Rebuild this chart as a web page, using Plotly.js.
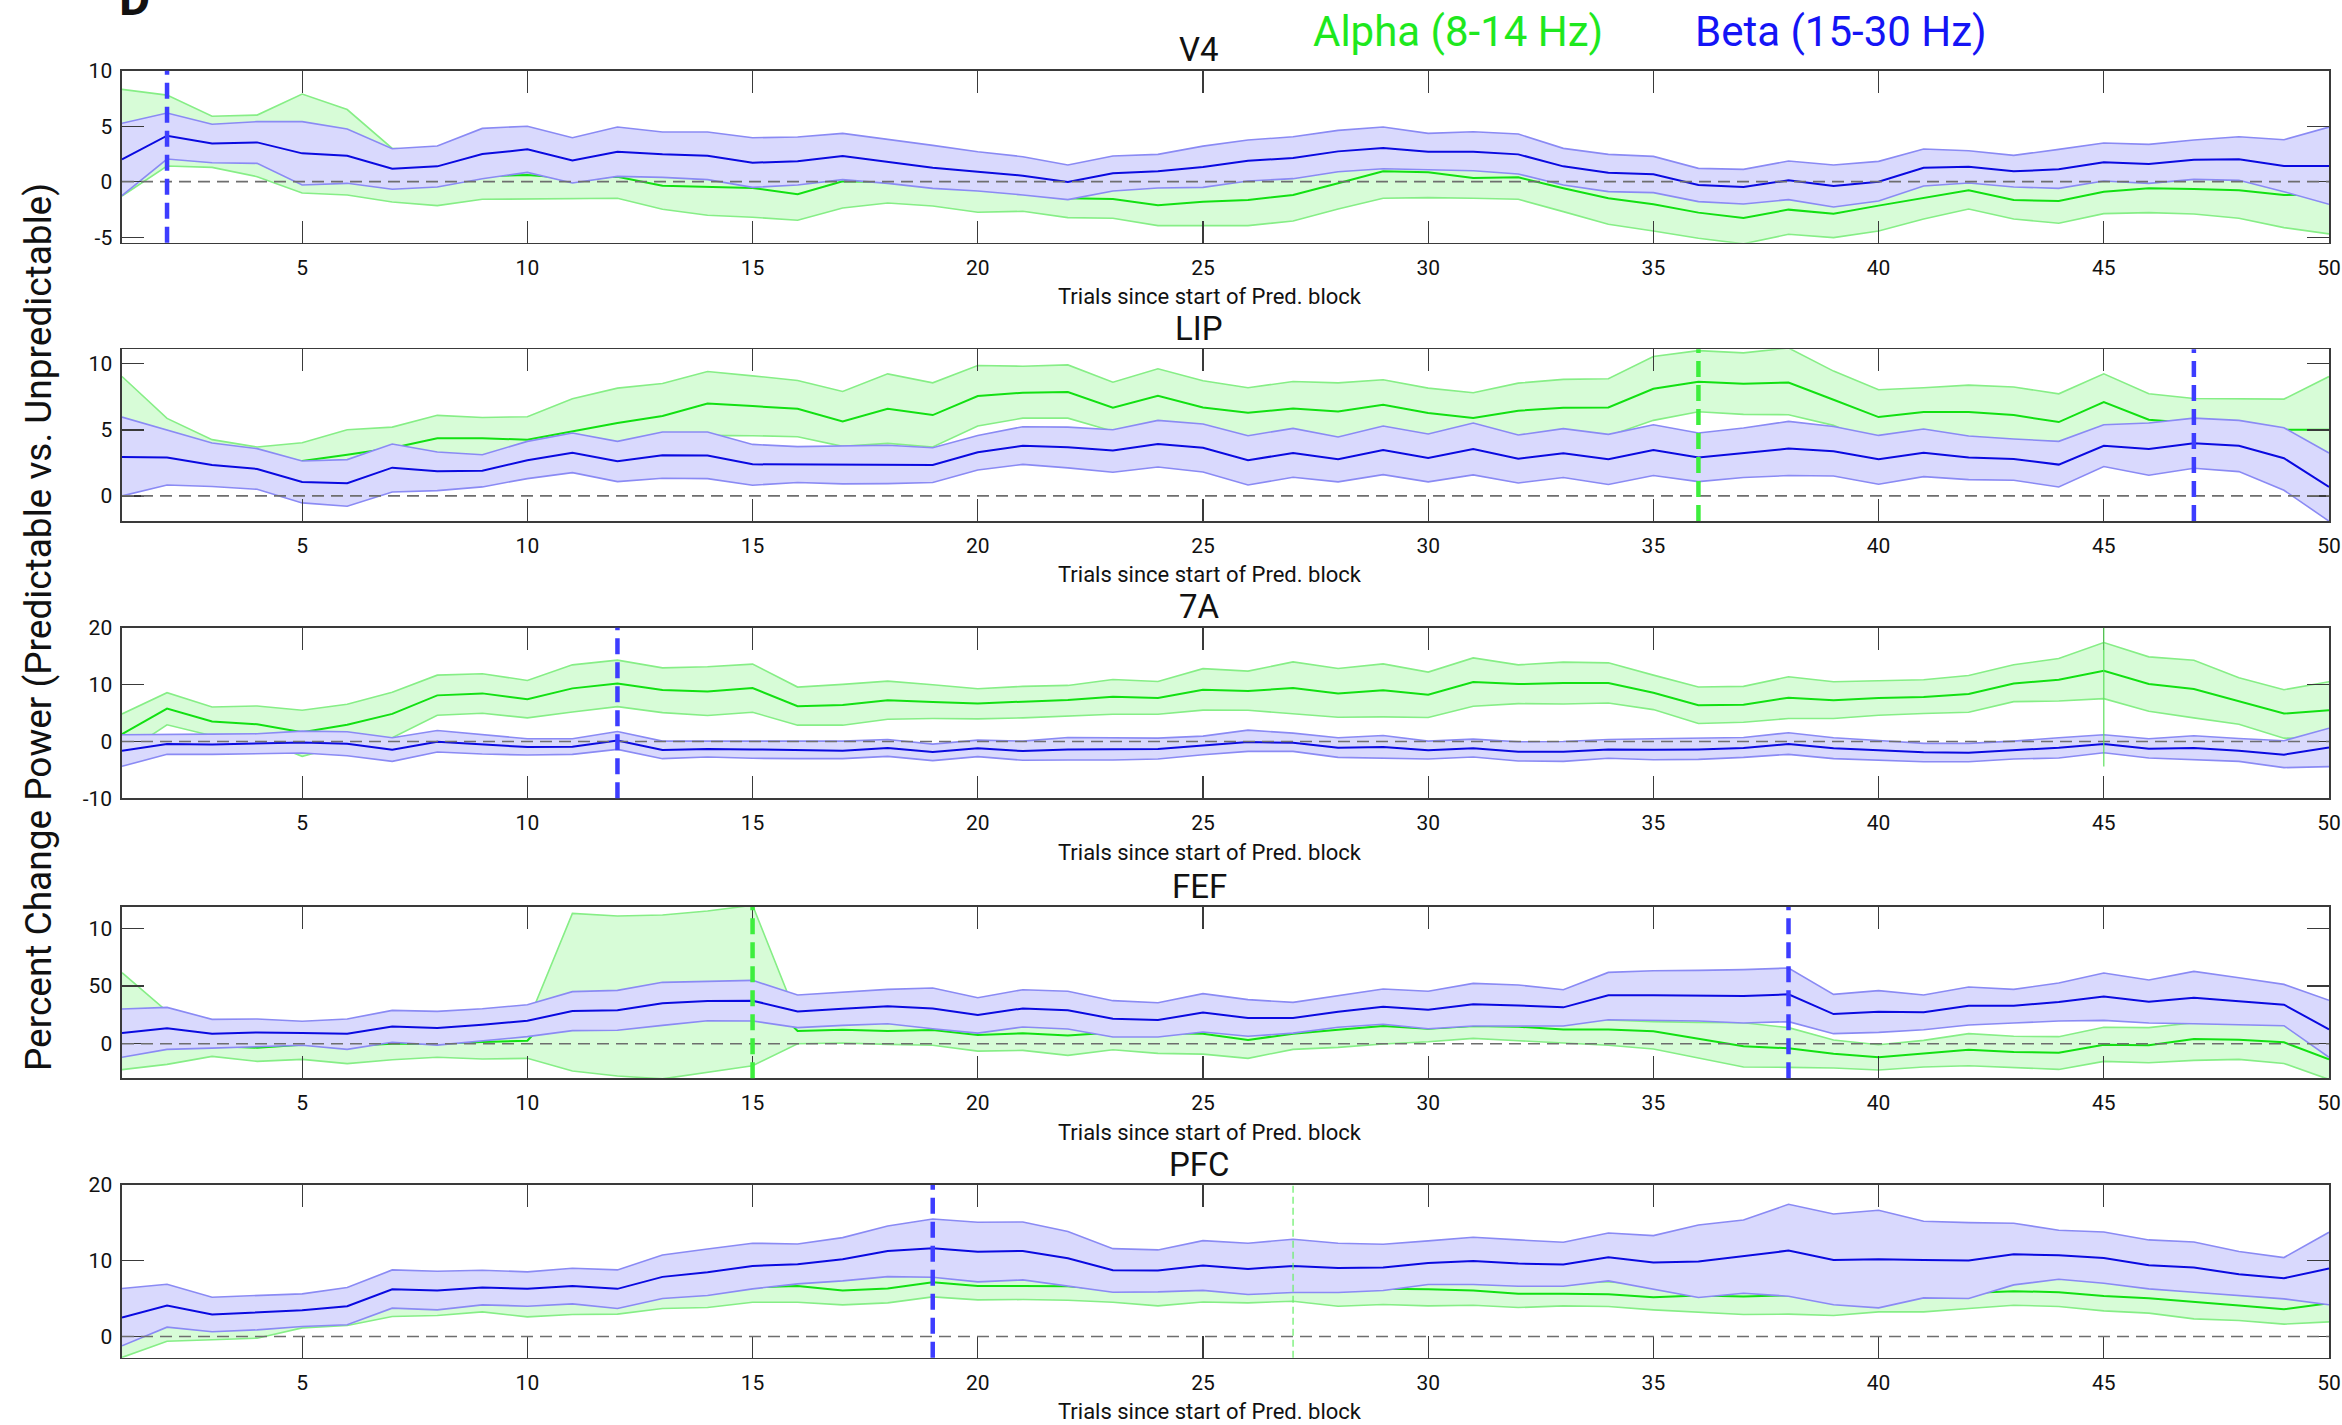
<!DOCTYPE html>
<html>
<head>
<meta charset="utf-8">
<script src="https://cdn.plot.ly/plotly-3.0.1.min.js"></script>
<style>
html,body{margin:0;padding:0;background:#fff;}
#chart{width:2342px;height:1425px;}
</style>
</head>
<body>
<div id="chart"></div>
<script>
// ---------------- DATA ----------------
const trials = [1,2,3,4,5,6,7,8,9,10,11,12,13,14,15,16,17,18,19,20,21,22,23,24,25,26,27,28,29,30,31,32,33,34,35,36,37,38,39,40,41,42,43,44,45,46,47,48,49,50];
const xTickVals = [5,10,15,20,25,30,35,40,45,50];
const panelNames = ['V4','LIP','7A','FEF','PFC'];
const xTitleText = 'Trials since start of Pred. block';
const yTitleText = 'Percent Change Power (Predictable vs. Unpredictable)';
const alphaLabel = 'Alpha (8-14 Hz)';
const betaLabel = 'Beta (15-30 Hz)';

// V4
const v4AlphaMean  = [3.5,4.6,3.6,3.2,3.4,2.6,0.6,0.3,0.5,0.6,0.3,0.45,-0.36,-0.48,-0.57,-1.14,0.03,0.0,-0.4,-0.7,-1.0,-1.5,-1.56,-2.13,-1.8,-1.65,-1.2,-0.15,0.93,0.84,0.33,0.39,-0.6,-1.5,-2.04,-2.79,-3.27,-2.52,-2.88,-2.16,-1.5,-0.78,-1.65,-1.74,-0.9,-0.6,-0.66,-0.78,-1.2,-1.14];
const v4AlphaUpper = [8.32,7.8,5.9,6.0,7.9,6.5,3.0,2.76,2.59,2.76,2.19,2.4,1.77,2.07,2.07,1.2,2.43,1.9,1.4,1.4,0.7,0.2,0.2,-0.3,0.36,0.66,1.14,2.16,3.36,3.12,2.16,2.37,1.5,0.84,0.36,-0.48,-0.9,-0.3,-0.72,0.12,0.36,0.9,0.06,0.27,1.08,1.59,1.59,1.74,1.74,2.43];
const v4AlphaLower = [-1.29,1.41,1.29,0.45,-1.02,-1.2,-1.83,-2.16,-1.59,-1.56,-1.59,-1.5,-2.49,-3.03,-3.21,-3.48,-2.37,-1.92,-2.19,-2.76,-2.67,-3.24,-3.3,-3.96,-3.96,-3.96,-3.54,-2.46,-1.5,-1.44,-1.5,-1.59,-2.7,-3.84,-4.44,-5.1,-5.6,-4.74,-5.04,-4.44,-3.36,-2.46,-3.36,-3.75,-2.88,-2.79,-2.91,-3.3,-4.14,-4.71];
const v4BetaMean   = [2.0,4.14,3.45,3.54,2.55,2.34,1.17,1.38,2.49,2.91,1.92,2.7,2.46,2.34,1.71,1.83,2.31,1.8,1.26,0.9,0.54,-0.03,0.75,0.93,1.32,1.89,2.13,2.73,3.03,2.7,2.7,2.46,1.38,0.81,0.66,-0.3,-0.48,0.12,-0.39,0.0,1.26,1.35,0.93,1.11,1.74,1.59,1.98,2.01,1.41,1.41];
const v4BetaUpper  = [5.26,6.19,5.17,5.41,5.41,4.74,2.97,3.21,4.8,5.0,3.96,4.92,4.47,4.47,3.96,4.02,4.35,3.84,3.27,2.7,2.25,1.5,2.31,2.46,3.2,3.75,4.05,4.62,4.92,4.35,4.5,4.29,3.0,2.46,2.28,1.2,1.11,1.86,1.5,1.83,2.94,2.79,2.37,2.91,3.48,3.36,3.75,4.05,3.78,4.92];
const v4BetaLower  = [-1.26,2.04,1.71,1.65,-0.3,-0.15,-0.69,-0.48,0.27,0.84,-0.12,0.48,0.39,0.18,-0.51,-0.3,0.18,-0.15,-0.6,-0.84,-1.2,-1.62,-0.84,-0.57,-0.51,0.06,0.27,0.9,1.17,1.05,0.99,0.69,-0.3,-0.9,-0.99,-1.8,-2.01,-1.62,-2.28,-1.74,-0.39,-0.12,-0.48,-0.6,0.06,-0.15,0.21,0.12,-0.9,-2.04];
const v4YRange = [-5.5, 10];
const v4YTicks = [-5, 0, 5, 10];
const v4YTickText = ['-5','0','5','10'];

// LIP
const lipAlphaMean  = [4.6,3.8,3.0,2.7,2.64,3.12,3.63,4.36,4.36,4.26,4.89,5.52,6.05,7.0,6.8,6.6,5.64,6.6,6.12,7.56,7.81,7.86,6.68,7.58,6.7,6.3,6.62,6.4,6.9,6.27,5.89,6.45,6.68,6.7,8.11,8.64,8.49,8.59,7.28,5.97,6.35,6.35,6.12,5.59,7.1,5.77,5.5,5.3,5.0,5.01];
const lipAlphaUpper = [9.04,5.87,4.26,3.7,4.03,5.01,5.21,6.1,5.94,5.99,7.36,8.16,8.51,9.42,9.09,8.74,7.91,9.24,8.56,9.87,9.82,9.92,8.61,9.62,8.72,8.19,8.66,8.56,8.79,8.16,7.81,8.54,8.82,8.87,10.55,11.0,10.83,11.2,9.45,8.04,8.19,8.39,8.24,7.73,9.24,7.73,7.38,7.38,7.33,9.04];
const lipAlphaLower = [0.2,1.7,1.7,1.7,1.25,1.23,2.05,2.62,2.78,2.53,2.42,2.88,3.59,4.58,4.56,4.48,3.75,3.98,3.7,5.29,5.89,5.89,4.9,5.54,4.68,4.41,4.58,4.24,5.0,4.38,3.97,4.36,4.54,4.53,5.72,6.37,6.17,6.15,5.34,3.9,4.5,4.3,4.0,3.45,4.96,3.8,3.6,3.2,2.7,1.0];
const lipBetaMean   = [2.95,2.9,2.34,2.04,1.06,0.96,2.14,1.86,1.91,2.7,3.27,2.62,3.07,3.05,2.39,2.39,2.37,2.39,2.34,3.3,3.8,3.68,3.43,3.93,3.65,2.7,3.25,2.77,3.48,2.87,3.55,2.82,3.22,2.77,3.48,2.9,3.22,3.58,3.38,2.77,3.27,2.9,2.8,2.37,3.8,3.55,3.98,3.8,2.85,0.68];
const lipBetaUpper  = [5.97,5.01,4.0,3.58,2.64,2.75,3.93,3.32,3.12,4.13,4.76,4.13,4.84,4.84,3.9,3.73,3.78,3.83,3.65,4.58,5.24,5.21,5.01,5.72,5.44,4.56,5.11,4.46,5.29,4.69,5.52,4.61,5.09,4.66,5.39,4.76,5.14,5.64,5.26,4.58,5.06,4.53,4.31,4.13,5.39,5.52,5.89,5.72,5.16,3.25];
const lipBetaLower  = [0.0,0.83,0.71,0.5,-0.53,-0.78,0.3,0.4,0.68,1.31,1.76,1.08,1.34,1.31,0.81,1.01,0.91,0.93,1.01,1.96,2.39,2.12,1.79,2.19,1.81,0.83,1.41,1.06,1.61,1.06,1.59,0.98,1.39,0.86,1.54,1.08,1.39,1.54,1.51,0.88,1.46,1.23,1.18,0.68,2.22,1.56,2.09,1.84,0.43,-1.91];
const lipYRange = [-1.9, 11.1];
const lipYTicks = [0, 5, 10];
const lipYTickText = ['0','5','10'];

// 7A
const a7AlphaMean  = [1.28,5.77,3.5,3.03,1.63,2.92,4.84,8.1,8.45,7.41,9.33,10.2,9.04,8.8,9.39,6.18,6.41,7.23,6.94,6.65,7.0,7.29,7.87,7.64,9.1,8.86,9.39,8.45,8.98,8.22,10.44,10.09,10.26,10.26,8.57,6.36,6.47,7.7,7.23,7.64,7.81,8.34,10.2,10.85,12.42,10.09,9.21,7.11,4.9,5.48];
const a7AlphaUpper = [4.84,8.57,6.06,6.24,5.48,6.53,8.63,11.66,11.9,10.73,13.47,14.29,12.94,13.12,13.59,9.56,10.03,10.61,9.97,9.27,9.68,9.85,10.9,10.55,12.8,12.36,13.99,12.83,13.64,12.19,14.69,13.47,13.94,13.82,11.66,9.56,9.68,11.37,10.5,10.73,10.85,11.6,13.47,14.58,17.38,14.87,14.29,11.2,9.1,10.5];
const a7AlphaLower = [-2.3,2.92,1.0,0.5,-2.62,-0.5,0.64,4.6,4.96,4.14,5.19,6.12,5.07,4.55,5.13,2.86,2.86,3.91,4.02,3.97,4.14,4.43,4.78,4.78,5.5,5.48,4.9,4.26,4.31,4.2,6.18,6.65,6.59,6.76,5.6,3.15,3.38,4.02,4.02,4.61,4.9,5.13,7.0,7.11,7.52,5.31,4.14,3.03,0.58,0.5];
const a7BetaMean   = [-1.63,-0.47,-0.52,-0.41,-0.17,-0.41,-1.46,-0.06,-0.58,-0.99,-0.93,0.17,-1.52,-1.34,-1.4,-1.57,-1.63,-1.17,-1.87,-1.22,-1.69,-1.4,-1.4,-1.34,-0.7,-0.12,-0.23,-1.11,-0.99,-1.57,-1.22,-1.81,-1.81,-1.4,-1.46,-1.4,-1.17,-0.47,-1.22,-1.57,-1.92,-1.98,-1.52,-1.11,-0.47,-1.28,-1.17,-1.63,-2.33,-1.05];
const a7BetaUpper  = [1.17,1.28,1.28,1.34,1.81,1.69,0.64,1.92,1.17,0.47,0.47,1.75,0.05,0.05,0.05,0.05,0.05,0.35,-0.47,0.23,0.06,0.7,0.7,0.58,0.93,1.98,1.46,0.64,1.05,0.06,0.41,-0.06,0.0,0.35,0.47,0.58,0.7,1.52,0.64,0.17,-0.35,-0.35,0.06,0.64,1.17,0.47,0.99,0.52,0.12,2.33];
const a7BetaLower  = [-4.37,-2.27,-2.27,-2.16,-2.04,-2.51,-3.5,-1.87,-2.22,-2.39,-2.27,-1.4,-3.03,-2.74,-2.97,-3.03,-3.03,-2.62,-3.38,-2.68,-3.32,-3.27,-3.27,-3.09,-2.33,-1.75,-1.75,-2.8,-2.92,-3.09,-2.74,-3.44,-3.5,-2.97,-3.21,-3.15,-2.8,-2.27,-3.03,-3.27,-3.56,-3.56,-3.09,-2.92,-1.98,-2.92,-3.15,-3.5,-4.61,-4.43];
const a7YRange = [-10, 20];
const a7YTicks = [-10, 0, 10, 20];
const a7YTickText = ['-10','0','10','20'];

// FEF
const fefAlphaMean  = [20,5,-2,-3.5,-1.0,-2,0,0,1.5,2.6,44.6,41.4,40.8,45,50,11.0,12.1,11.0,11.8,7.5,9.0,7.2,9.8,9.5,8.7,3.2,8.7,12.1,15.3,13.0,15.3,14.7,12.4,12.4,10.7,4.3,-2.3,-4.0,-8.7,-11.8,-8.4,-5.2,-7.2,-7.8,-0.9,-1.4,4.0,3.5,1.2,-13.6];
const fefAlphaUpper = [61.6,28,7,8.3,11.6,13.3,13.9,11.8,16.3,17.9,113,110.7,111.6,115,120,22,23.6,22.6,25,21.4,23.8,24.5,24.8,27.4,26.4,19.1,22.3,27.4,30.9,24.3,26,26.8,24.5,20.5,19.1,18.5,18.2,13.9,3.2,-0.9,2.9,8.7,6.4,6.1,14.2,13.9,18.2,17.6,16.2,-10.7];
const fefAlphaLower = [-22.5,-17.9,-11.0,-15.3,-13.6,-17.3,-13.9,-11.8,-13.3,-12.7,-23.7,-28.0,-30.5,-24.9,-19.1,0.0,0.6,-0.6,-1.4,-6.4,-5.8,-10.1,-5.2,-8.4,-9.0,-12.7,-4.9,-3.2,-0.3,1.7,4.6,2.6,0.3,-1.4,-4.6,-12.7,-20.2,-20.5,-21.1,-22.8,-20.2,-19.1,-20.8,-22.3,-15.3,-16.5,-14.5,-13.6,-17.1,-31];
const fefBetaMean   = [9.2,13.3,8.7,9.8,9.2,8.7,15.0,13.6,16.5,19.9,28.3,28.9,35.0,37.0,37.3,28.0,30.3,32.4,30.6,24.9,30.6,28.9,21.7,20.5,27.0,22.3,22.3,27.7,32.1,29.5,34.1,33.2,31.5,41.9,41.9,41.6,41.3,42.8,25.7,27.7,27.2,32.9,32.9,36.1,41.0,36.4,39.9,36.7,33.8,12.4];
const fefBetaUpper  = [30.1,31.5,21.1,21.4,19.4,21.4,28.9,28.0,30.3,33.8,45.1,46.2,53.2,54.0,54.9,42.2,44.5,47.1,48.3,39.9,46.8,45.4,37.3,35.5,43.4,38.2,35.8,41.6,47.4,45.4,52.3,50.9,46.8,61.8,63.3,63.6,64.2,65.6,42.8,46.0,42.2,49.1,47.1,52.6,61.3,55.2,62.7,57.2,51.4,37.6];
const fefBetaLower  = [-11.8,-4.9,-3.8,-2.6,-1.4,-4.9,1.2,-1.2,2.3,6.1,11.3,11.6,15.9,19.9,19.7,13.9,15.9,17.3,13.0,9.2,14.5,12.7,5.8,5.8,10.1,6.4,9.2,14.2,16.8,13.0,15.3,15.0,15.3,20.8,20.2,19.7,17.9,19.1,8.7,9.8,12.1,16.2,17.9,19.7,20.2,17.9,17.3,16.2,15.6,-11.8];
const fefYRange = [-30, 118.5];
const fefYTicks = [0, 50, 100];
const fefYTickText = ['0','50','10'];

// PFC
const pfcAlphaMean  = [0.3,2.0,1.8,2.0,2.4,2.8,4.3,4.3,4.8,4.6,4.8,4.6,5.6,5.9,6.5,6.68,6.07,6.33,7.16,6.68,6.68,6.64,6.2,6.2,6.3,6.1,6.2,6.2,6.3,6.24,6.07,5.63,5.63,5.58,5.19,5.41,5.27,5.45,5.2,5.3,5.5,5.7,5.98,5.85,5.36,5.05,4.53,4.09,3.6,4.4];
const pfcAlphaUpper = [3.37,4.62,4.04,4.22,3.66,4.15,5.96,5.83,6.35,6.61,6.7,6.25,7.51,7.98,8.47,8.83,7.96,8.22,9.09,8.52,8.48,8.49,7.87,8.36,8.03,7.76,7.74,8.4,8.38,8.44,8.01,7.44,7.22,7.2,6.86,7.61,7.64,7.95,7.63,7.35,7.75,7.71,7.83,7.74,7.34,7.02,6.73,6.07,5.57,6.87];
const pfcAlphaLower = [-2.77,-0.62,-0.44,-0.22,1.14,1.45,2.64,2.77,3.25,2.59,2.9,2.95,3.69,3.82,4.53,4.53,4.18,4.44,5.23,4.84,4.88,4.79,4.53,4.04,4.55,4.44,4.66,4.0,4.22,4.04,4.13,3.82,4.04,3.96,3.52,3.21,2.9,2.95,2.77,3.25,3.25,3.69,4.13,3.96,3.38,3.08,2.33,2.11,1.63,1.93];
const pfcBetaMean   = [2.51,4.09,2.9,3.16,3.47,4.0,6.24,6.07,6.46,6.29,6.68,6.29,7.87,8.48,9.32,9.54,10.2,11.3,11.65,11.2,11.3,10.33,8.75,8.7,9.38,8.92,9.32,9.05,9.1,9.71,9.98,9.63,9.49,10.46,9.76,9.89,10.59,11.34,10.11,10.2,10.11,10.02,10.86,10.73,10.37,9.41,9.1,8.22,7.69,8.97];
const pfcBetaUpper  = [6.33,6.9,5.19,5.36,5.63,6.46,8.79,8.62,8.75,8.53,9.01,8.79,10.77,11.56,12.31,12.22,13.05,14.59,15.52,15.08,15.12,13.85,11.6,11.43,12.66,12.31,12.84,12.31,12.18,12.62,13.1,12.75,12.44,13.67,13.32,14.73,15.38,17.45,16.18,16.66,15.21,15.03,14.95,14.02,13.8,12.75,12.48,11.21,10.42,13.76];
const pfcBetaLower  = [-1.23,1.23,0.62,0.88,1.32,1.54,3.74,3.52,4.18,4.0,4.31,3.69,5.01,5.41,6.29,6.95,7.34,7.91,7.82,7.21,7.47,6.68,5.85,5.89,6.09,5.54,5.8,5.8,6.07,6.86,6.86,6.64,6.64,7.34,6.24,5.14,5.71,5.32,4.18,3.78,5.1,5.01,6.81,7.56,7.03,6.29,5.85,5.36,4.97,4.18];
const pfcYRange = [-2.8, 20];
const pfcYTicks = [0, 10, 20];
const pfcYTickText = ['0','10','20'];

// Marked trials (vertical lines): panel index, trial, band, style, lower end (null = full height)
const markerPanel = [0, 1, 1, 2, 2, 3, 3, 4, 4];
const markerTrial = [2, 36, 47, 12, 45, 15, 38, 19, 27];
const markerBand  = ['beta','alpha','beta','beta','alpha','alpha','beta','beta','alpha'];
const markerStyle = ['thick','thick','thick','thick','thin','thick','thick','thick','thinDash'];
const markerLow   = [null, null, null, null, -4.4, null, null, null, null];

// ---------------- STYLE / LAYOUT ----------------
const W = 2342, H = 1425;
const FONT = 'Roboto, "Open Sans", Arial, sans-serif';
const plotLeft = 122, plotRight = 2329;
const panelTop = [70.7, 349.3, 627.7, 907, 1185];
const panelBottom = [242.7, 521, 798.3, 1078.3, 1357.7];

const C = {
  alpha: {mean:'#12e012', edge:'#86ee86', fill:'#d7fcd7', mark:'#3dee3d', text:'#1ee81e'},
  beta:  {mean:'#0a0ae0', edge:'#8a8af4', fill:'#d9d9fd', mark:'#3d3dff', text:'#1414f5'}
};

const panels = [
  {alpha:[v4AlphaMean,v4AlphaUpper,v4AlphaLower], beta:[v4BetaMean,v4BetaUpper,v4BetaLower], range:v4YRange, ticks:v4YTicks, tickText:v4YTickText},
  {alpha:[lipAlphaMean,lipAlphaUpper,lipAlphaLower], beta:[lipBetaMean,lipBetaUpper,lipBetaLower], range:lipYRange, ticks:lipYTicks, tickText:lipYTickText},
  {alpha:[a7AlphaMean,a7AlphaUpper,a7AlphaLower], beta:[a7BetaMean,a7BetaUpper,a7BetaLower], range:a7YRange, ticks:a7YTicks, tickText:a7YTickText},
  {alpha:[fefAlphaMean,fefAlphaUpper,fefAlphaLower], beta:[fefBetaMean,fefBetaUpper,fefBetaLower], range:fefYRange, ticks:fefYTicks, tickText:fefYTickText},
  {alpha:[pfcAlphaMean,pfcAlphaUpper,pfcAlphaLower], beta:[pfcBetaMean,pfcBetaUpper,pfcBetaLower], range:pfcYRange, ticks:pfcYTicks, tickText:pfcYTickText}
];

const traces = [];
const shapes = [];
const annotations = [];
const layout = {
  width: W, height: H,
  margin: {l:0, r:0, t:0, b:0},
  paper_bgcolor: '#ffffff', plot_bgcolor: '#ffffff',
  showlegend: false,
  font: {family: FONT, color: '#111'}
};

const axisCommon = {
  showline: true, linecolor: '#3a3a3a', linewidth: 1.6, mirror: 'ticks',
  ticks: 'inside', ticklen: 22, tickwidth: 1.3, tickcolor: '#3a3a3a',
  showgrid: false, zeroline: false, fixedrange: true,
  ticklabeloverflow: 'allow',
  tickfont: {family: FONT, size: 21, color: '#111'}
};

function addBand(set, col, xa, ya) {
  const [mean, upper, lower] = set;
  traces.push({
    x: trials.concat(trials.slice().reverse()),
    y: upper.concat(lower.slice().reverse()),
    xaxis: xa, yaxis: ya, type: 'scatter', mode: 'none',
    fill: 'toself', fillcolor: col.fill, hoverinfo: 'skip'
  });
  traces.push({x: trials, y: lower, xaxis: xa, yaxis: ya, type:'scatter', mode:'lines', line:{color: col.edge, width: 1.6}, hoverinfo:'skip'});
  traces.push({x: trials, y: upper, xaxis: xa, yaxis: ya, type:'scatter', mode:'lines', line:{color: col.edge, width: 1.6}, hoverinfo:'skip'});
  traces.push({x: trials, y: mean, xaxis: xa, yaxis: ya, type:'scatter', mode:'lines', line:{color: col.mean, width: 2}, hoverinfo:'skip'});
}

panels.forEach((p, i) => {
  const n = i === 0 ? '' : String(i + 1);
  const xa = 'x' + n, ya = 'y' + n;
  const top = panelTop[i], bot = panelBottom[i];
  layout['xaxis' + n] = Object.assign({}, axisCommon, {
    domain: [plotLeft / W, plotRight / W], range: [1, 50], anchor: ya,
    tickmode: 'array', tickvals: xTickVals, ticklabelstandoff: 5
  });
  layout['yaxis' + n] = Object.assign({}, axisCommon, {
    domain: [1 - bot / H, 1 - top / H], range: p.range, anchor: xa,
    tickmode: 'array', tickvals: p.ticks, ticktext: p.tickText, ticklabelstandoff: 4
  });
  addBand(p.alpha, C.alpha, xa, ya);
  addBand(p.beta, C.beta, xa, ya);

  // zero reference line
  shapes.push({type:'line', layer:'above', xref: xa + ' domain', yref: ya, x0: 0, x1: 1, y0: 0, y1: 0,
    line: {color:'#6e6e6e', width: 1.6, dash: '12px,7px'}});

  // panel title
  annotations.push({text: panelNames[i], xref:'paper', yref:'paper', x: 1199 / W, y: 1 - (top - 21) / H,
    xanchor:'center', yanchor:'middle', showarrow:false, font:{family:FONT, size:33, color:'#111'}});
  // x title
  annotations.push({text: xTitleText, xref:'paper', yref:'paper', x: 1210 / W, y: 1 - (bot + 54) / H,
    xanchor:'center', yanchor:'middle', showarrow:false, font:{family:FONT, size:22, color:'#111'}});
});

// vertical marker lines
markerTrial.forEach((t, k) => {
  const i = markerPanel[k];
  const n = i === 0 ? '' : String(i + 1);
  const col = C[markerBand[k]].mark;
  const st = markerStyle[k];
  const line = st === 'thick' ? {color: col, width: 4.5, dash: '16px,8px'}
             : st === 'thin' ? {color: '#5ee05e', width: 1.2, dash: 'solid'}
             : {color: '#66ee66', width: 1.2, dash: '7px,4px'};
  if (markerLow[k] === null) {
    shapes.push({type:'line', layer:'above', xref:'x' + n, yref:'y' + n + ' domain', x0: t, x1: t, y0: 0, y1: 1, line});
  } else {
    shapes.push({type:'line', layer:'above', xref:'x' + n, yref:'y' + n, x0: t, x1: t,
      y0: markerLow[k], y1: panels[i].range[1], line});
  }
});

// y-axis title
annotations.push({text: yTitleText, xref:'paper', yref:'paper', x: 39 / W, y: 1 - 627 / H,
  xanchor:'center', yanchor:'middle', textangle:-90, showarrow:false, font:{family:FONT, size:37, color:'#111'}});
// band labels
annotations.push({text: alphaLabel, xref:'paper', yref:'paper', x: 1458 / W, y: 1 - 31 / H,
  xanchor:'center', yanchor:'middle', showarrow:false, font:{family:FONT, size:42, color:C.alpha.text}});
annotations.push({text: betaLabel, xref:'paper', yref:'paper', x: 1841 / W, y: 1 - 31 / H,
  xanchor:'center', yanchor:'middle', showarrow:false, font:{family:FONT, size:42, color:C.beta.text}});
// panel letter (cut off at the top, as in the source figure)
annotations.push({text: '<b>D</b>', xref:'paper', yref:'paper', x: 134 / W, y: 1 + 2 / H,
  xanchor:'center', yanchor:'middle', showarrow:false, font:{family:FONT, size:48, color:'#111'}});

layout.shapes = shapes;
layout.annotations = annotations;

Plotly.newPlot('chart', traces, layout, {staticPlot: true, displayModeBar: false});
</script>
</body>
</html>
